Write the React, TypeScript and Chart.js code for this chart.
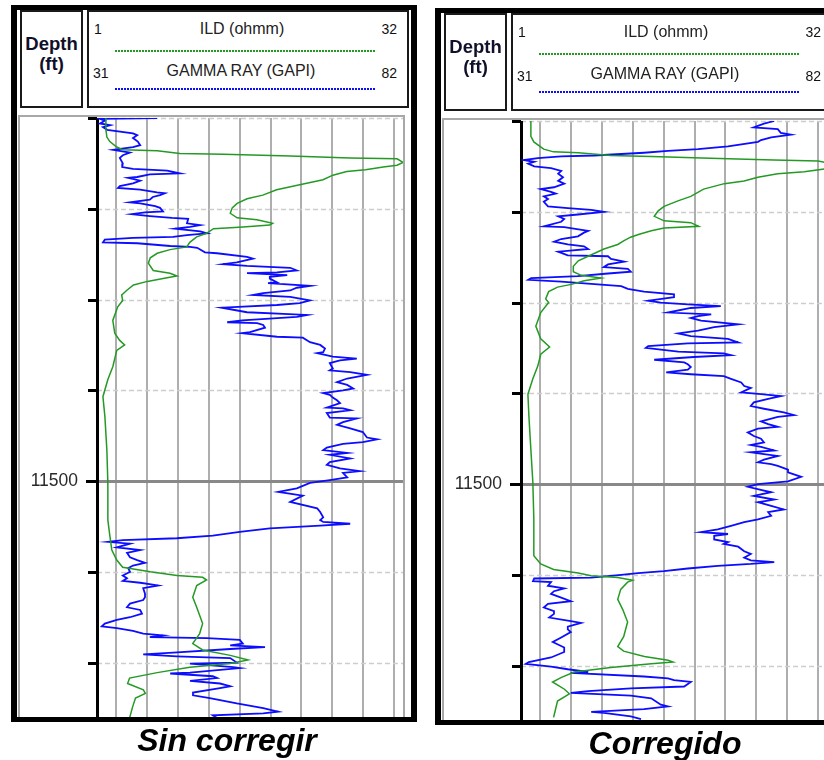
import React, { useEffect, useRef } from "react";
import { Chart, registerables } from "chart.js";

Chart.register(...registerables);

const FONT = '"Liberation Sans", Arial, Helvetica, sans-serif';

// ---- Depth axis (ft) ----
const DEPTH_TOP = 11460;
const DEPTH_BOTTOM = 11526.1;
const depthTicks = [11460, 11470, 11480, 11490, 11500, 11510, 11520];
const labelledDepth = 11500;

// ---- Curve scales (header) ----
const ildScale = [1, 32];
const grScale = [31, 82];
const gridStops = [0, 1, 2, 3, 4, 5, 6, 7, 8, 9];
const gridSpan = [-0.615, 9.288];

// ---- Panel titles ----
const panelTitles = ["Sin corregir", "Corregido"];

// ---- Sin corregir: [depth ft, value] ----
const grRaw = [
  [11460.0,41.0],[11460.1,31.5],[11460.3,32.3],[11460.6,31.5],[11460.8,33.2],[11461.0,32.0],[11461.3,32.7],[11461.7,37.0],[11461.9,37.7],[11462.2,37.0],[11462.6,37.8],[11463.0,38.2],[11463.2,37.0],[11463.5,33.7],[11463.8,36.5],[11464.1,35.3],[11464.4,34.8],[11465.0,35.3],[11465.4,35.2],[11465.6,37.0],[11465.8,42.7],[11466.1,44.8],[11466.2,39.8],[11466.5,37.7],[11466.6,36.2],[11466.9,38.2],[11467.2,37.0],[11467.5,34.8],[11467.7,34.5],[11467.9,38.2],[11468.2,41.0],[11468.3,42.3],[11468.5,41.5],[11468.7,40.3],[11469.0,39.8],[11469.3,36.5],[11469.4,38.2],[11469.7,40.7],[11469.9,41.5],[11470.3,42.0],[11470.4,39.0],[11470.6,36.8],[11470.8,39.8],[11471.0,43.5],[11471.1,46.2],[11471.6,46.0],[11471.8,48.2],[11472.0,46.5],[11472.2,44.0],[11472.5,48.2],[11472.7,49.3],[11472.9,46.0],[11473.1,43.7],[11473.2,37.0],[11473.4,32.3],[11473.7,32.0],[11473.8,37.7],[11474.1,43.2],[11474.2,46.5],[11474.3,47.7],[11474.8,49.0],[11474.9,51.0],[11475.3,56.0],[11475.5,57.0],[11475.9,54.3],[11476.1,52.0],[11476.3,56.0],[11476.5,63.2],[11476.8,64.3],[11477.0,61.0],[11477.1,56.0],[11477.3,62.7],[11477.5,59.8],[11477.7,59.8],[11478.1,61.0],[11478.2,59.5],[11478.5,66.5],[11478.7,64.3],[11479.0,63.2],[11479.3,58.7],[11479.5,57.0],[11479.7,63.2],[11480.1,66.5],[11480.4,64.8],[11480.6,61.0],[11480.9,51.8],[11481.4,56.0],[11481.7,66.0],[11481.9,64.3],[11482.3,55.2],[11482.5,52.7],[11482.6,57.7],[11482.8,58.7],[11483.1,59.0],[11483.6,56.5],[11483.7,55.2],[11484.1,61.0],[11484.2,65.3],[11484.7,66.5],[11485.0,68.2],[11485.4,69.0],[11485.8,68.7],[11485.9,67.7],[11486.3,70.3],[11486.5,74.3],[11486.7,71.5],[11487.0,69.8],[11487.6,70.3],[11487.8,69.8],[11488.0,73.2],[11488.3,76.0],[11488.7,72.7],[11489.1,71.0],[11489.4,72.7],[11489.8,73.7],[11490.0,72.0],[11490.3,68.7],[11490.5,69.8],[11490.8,70.3],[11491.1,71.0],[11491.4,71.5],[11491.9,69.3],[11492.0,72.0],[11492.2,73.2],[11492.5,69.3],[11493.0,69.8],[11493.1,74.3],[11493.5,72.0],[11493.8,71.0],[11494.2,73.2],[11494.6,75.3],[11495.2,76.0],[11495.4,77.7],[11495.7,75.3],[11495.9,72.0],[11496.3,69.3],[11496.6,68.7],[11496.9,72.7],[11497.1,69.8],[11497.5,73.2],[11497.9,69.8],[11498.2,69.3],[11498.6,71.5],[11498.9,74.8],[11499.1,72.0],[11499.6,72.7],[11499.9,69.8],[11500.2,66.5],[11500.8,64.3],[11501.2,61.2],[11501.6,65.3],[11502.3,63.2],[11503.0,67.7],[11503.4,68.2],[11504.0,68.7],[11504.3,68.2],[11504.5,68.7],[11504.7,73.2],[11504.9,68.2],[11505.2,59.8],[11505.6,54.8],[11506.0,50.3],[11506.3,44.3],[11506.5,35.3],[11506.7,32.8],[11506.9,36.5],[11507.3,34.3],[11507.6,38.2],[11507.9,36.0],[11508.4,36.5],[11508.7,37.7],[11509.0,39.0],[11509.3,37.0],[11509.6,36.2],[11510.0,36.5],[11510.4,35.3],[11510.7,36.0],[11511.0,35.3],[11511.2,38.2],[11511.5,41.2],[11511.8,38.7],[11512.4,39.0],[11512.8,39.0],[11513.1,38.7],[11513.5,36.5],[11513.9,36.0],[11514.2,38.2],[11514.6,38.5],[11515.0,36.5],[11515.3,34.3],[11515.7,32.3],[11516.0,31.8],[11516.2,34.3],[11516.5,37.0],[11516.8,38.7],[11517.0,42.0],[11517.2,39.8],[11517.3,49.3],[11517.5,54.8],[11517.9,55.3],[11518.1,53.2],[11518.3,59.0],[11518.5,53.2],[11518.9,43.7],[11519.1,38.7],[11519.3,44.3],[11519.5,53.2],[11520.0,54.3],[11520.1,46.5],[11520.5,53.7],[11520.6,54.8],[11521.1,46.5],[11521.2,43.2],[11521.5,50.3],[11521.7,51.0],[11522.0,46.5],[11522.3,51.5],[11522.6,53.2],[11522.8,51.5],[11523.3,47.0],[11523.6,47.0],[11523.9,49.8],[11524.5,54.3],[11525.0,58.7],[11525.4,61.2],[11525.6,58.7],[11525.8,50.3],[11526.1,51.0]
];

const ildRaw = [
  [11460.0,1.9],[11461.3,1.9],[11462.1,2.0],[11462.6,2.3],[11463.2,3.0],[11463.5,3.6],[11463.6,7.1],[11463.9,9.4],[11464.0,13.8],[11464.2,20.6],[11464.4,26.6],[11464.5,31.4],[11464.9,32.0],[11465.2,31.4],[11465.4,30.0],[11465.7,28.2],[11465.9,26.3],[11466.3,24.9],[11466.8,23.9],[11467.4,21.3],[11467.9,19.2],[11468.5,17.8],[11468.9,16.2],[11469.4,15.2],[11469.9,14.7],[11470.5,14.5],[11471.0,15.2],[11471.2,17.2],[11471.6,18.8],[11471.8,18.5],[11472.0,15.8],[11472.2,12.8],[11472.7,12.1],[11473.1,11.1],[11473.7,10.4],[11474.2,10.1],[11474.5,8.4],[11474.9,7.1],[11475.4,6.4],[11476.0,6.2],[11476.8,6.7],[11477.1,8.4],[11477.4,9.1],[11477.6,8.1],[11478.0,6.1],[11478.4,4.7],[11479.0,4.0],[11479.5,3.5],[11480.1,3.6],[11480.8,3.1],[11482.3,2.6],[11483.7,2.8],[11484.5,3.3],[11485.0,3.8],[11485.6,3.0],[11487.4,2.6],[11488.8,2.1],[11490.7,1.6],[11492.9,1.8],[11496.6,2.0],[11500.2,2.1],[11502.1,2.1],[11504.3,2.1],[11506.0,2.3],[11507.6,2.5],[11508.7,3.0],[11509.5,3.6],[11510.0,6.4],[11510.4,9.1],[11510.6,11.7],[11510.9,12.1],[11511.5,11.1],[11512.8,10.7],[11513.9,11.1],[11515.7,11.7],[11516.8,11.4],[11517.9,10.7],[11518.6,11.7],[11519.2,14.5],[11519.7,16.3],[11520.1,14.5],[11520.5,10.4],[11521.1,7.1],[11521.7,4.3],[11522.3,4.1],[11523.0,5.7],[11523.4,5.9],[11523.9,4.9],[11524.9,4.6],[11526.1,4.3]
];

// ---- Corregido: [depth ft, value] ----
const grCorrected = [
  [11460.0,73.2],[11460.3,71.5],[11460.7,69.8],[11460.9,73.8],[11461.3,74.3],[11461.5,76.0],[11461.8,72.7],[11462.1,71.0],[11462.3,70.5],[11462.8,65.5],[11463.1,60.5],[11463.3,55.5],[11463.5,51.5],[11463.8,43.2],[11463.9,37.7],[11464.1,33.8],[11464.3,31.5],[11464.5,33.2],[11464.7,32.2],[11465.0,33.2],[11465.2,36.0],[11465.5,37.7],[11465.8,37.2],[11466.2,38.0],[11466.6,37.2],[11466.9,38.2],[11467.3,36.5],[11467.5,34.3],[11467.8,36.0],[11468.0,36.8],[11468.3,34.8],[11468.6,35.5],[11468.9,34.8],[11469.4,35.5],[11469.6,38.8],[11469.8,42.7],[11470.0,44.8],[11470.3,40.5],[11470.5,37.2],[11470.8,38.2],[11471.1,37.7],[11471.6,34.8],[11471.7,38.2],[11472.1,42.2],[11472.3,41.5],[11472.7,40.5],[11473.0,37.7],[11473.3,36.5],[11473.6,38.8],[11473.8,41.5],[11474.1,42.2],[11474.4,37.2],[11474.8,38.8],[11474.9,45.5],[11475.2,46.0],[11475.5,48.2],[11475.8,45.5],[11476.1,44.8],[11476.3,48.8],[11476.6,49.3],[11476.8,45.5],[11477.1,40.5],[11477.3,32.7],[11477.5,32.2],[11477.7,37.7],[11478.0,43.8],[11478.2,47.7],[11478.5,48.8],[11478.8,51.5],[11479.1,56.5],[11479.4,56.5],[11479.8,52.2],[11480.0,54.3],[11480.2,58.8],[11480.4,64.3],[11480.6,59.3],[11481.1,55.5],[11481.3,62.7],[11481.5,60.5],[11481.7,59.3],[11482.0,61.0],[11482.4,67.2],[11482.7,63.2],[11483.1,60.5],[11483.4,57.2],[11483.7,59.3],[11484.0,65.5],[11484.4,67.2],[11484.5,58.8],[11484.8,52.2],[11485.0,51.8],[11485.4,57.2],[11485.6,64.8],[11485.8,66.0],[11486.0,59.8],[11486.3,53.2],[11486.6,58.2],[11486.8,58.8],[11487.1,59.3],[11487.4,58.8],[11487.7,55.2],[11487.9,59.3],[11488.1,64.8],[11488.4,66.0],[11488.8,67.7],[11489.2,68.2],[11489.4,69.3],[11489.9,67.7],[11490.1,71.0],[11490.3,74.3],[11490.6,72.2],[11491.0,69.8],[11491.4,69.3],[11491.7,71.5],[11492.1,74.8],[11492.4,76.5],[11492.6,73.8],[11493.1,71.0],[11493.4,72.2],[11493.7,73.8],[11493.9,70.5],[11494.3,68.8],[11494.7,69.8],[11495.0,71.0],[11495.4,71.5],[11495.7,69.3],[11495.9,71.0],[11496.3,73.2],[11496.5,69.3],[11496.7,71.5],[11496.9,73.8],[11497.3,71.5],[11497.6,70.5],[11497.8,72.7],[11498.0,73.8],[11498.4,75.5],[11498.7,75.5],[11499.2,77.7],[11499.7,75.5],[11500.0,70.5],[11500.3,68.8],[11500.9,72.7],[11501.3,69.8],[11501.7,73.2],[11502.0,70.5],[11502.4,72.7],[11502.8,74.8],[11503.1,72.2],[11503.5,72.7],[11503.9,70.5],[11504.2,68.2],[11504.6,66.0],[11505.0,63.8],[11505.3,61.0],[11505.5,65.5],[11505.7,63.2],[11506.1,63.2],[11506.4,65.5],[11506.6,64.8],[11506.9,67.2],[11507.4,68.2],[11507.7,69.3],[11508.1,68.2],[11508.4,69.3],[11508.6,73.2],[11508.8,69.3],[11509.0,63.8],[11509.3,58.8],[11509.6,54.8],[11509.8,50.5],[11510.0,47.7],[11510.3,42.7],[11510.4,33.2],[11510.7,33.0],[11510.8,36.0],[11511.2,35.5],[11511.5,38.2],[11511.8,36.5],[11512.1,36.0],[11512.5,37.7],[11512.9,39.3],[11513.2,35.5],[11513.6,34.8],[11514.0,36.5],[11514.3,36.5],[11514.7,35.7],[11515.1,39.3],[11515.3,41.0],[11515.7,38.8],[11516.0,38.8],[11516.3,39.3],[11516.9,37.7],[11517.4,36.3],[11518.0,38.2],[11518.5,38.2],[11519.1,36.0],[11519.6,32.3],[11519.8,31.8],[11520.1,36.0],[11520.4,38.8],[11520.7,42.2],[11520.8,39.3],[11521.2,51.5],[11521.4,55.5],[11521.6,56.5],[11521.8,59.3],[11522.3,58.2],[11522.5,49.3],[11522.8,42.2],[11523.0,39.3],[11523.3,49.3],[11523.6,52.7],[11524.3,54.3],[11524.5,55.5],[11524.8,51.5],[11525.1,42.7],[11525.2,44.8],[11525.6,49.3],[11525.9,51.0]
];

const ildCorrected = [
  [11460.0,2.0],[11461.7,2.0],[11462.3,2.3],[11463.1,3.3],[11463.4,4.3],[11463.5,6.8],[11463.8,10.1],[11463.9,14.2],[11464.1,20.2],[11464.3,26.6],[11464.4,31.1],[11464.6,32.0],[11465.1,31.8],[11465.3,31.7],[11465.6,29.7],[11465.8,27.0],[11466.2,25.0],[11466.6,23.6],[11466.9,21.6],[11467.5,19.5],[11468.3,18.2],[11468.8,16.9],[11469.4,15.5],[11469.9,14.9],[11470.5,14.5],[11471.0,15.5],[11471.2,18.2],[11471.6,19.0],[11471.8,15.5],[11472.1,14.2],[11472.5,12.9],[11472.8,12.1],[11473.2,11.4],[11473.6,10.8],[11474.1,9.4],[11474.9,7.8],[11475.4,6.8],[11476.0,6.3],[11476.6,6.3],[11477.0,7.1],[11477.3,9.1],[11477.6,7.4],[11478.0,6.1],[11478.3,4.7],[11478.8,3.8],[11479.6,3.5],[11480.0,3.8],[11481.1,3.0],[11482.6,2.5],[11484.0,3.0],[11484.9,3.9],[11485.7,3.0],[11487.0,2.7],[11488.4,2.2],[11490.1,1.7],[11492.5,1.8],[11496.2,2.0],[11499.8,2.2],[11503.9,2.3],[11507.9,2.3],[11508.8,3.0],[11509.4,4.3],[11509.8,6.8],[11510.1,8.1],[11510.3,10.8],[11510.6,12.3],[11510.8,11.8],[11511.6,11.1],[11512.7,10.8],[11513.8,11.3],[11515.2,11.8],[11516.8,11.4],[11517.9,10.8],[11518.4,11.4],[11519.0,13.5],[11519.4,15.9],[11519.6,16.4],[11519.8,14.2],[11520.2,10.1],[11520.7,6.4],[11521.3,5.1],[11521.8,4.2],[11522.6,5.4],[11523.1,5.9],[11523.9,4.7],[11524.8,4.5],[11525.7,4.3]
];

const ILD_COLOR = "#249a24";
const GR_COLOR = "#0c0cff";

const trackGrid = {
  id: "trackGrid",
  beforeDatasetsDraw(chart: any) {
    const { ctx, chartArea: a, scales } = chart;
    const yS = scales.y;
    const gS = scales.g;
    ctx.save();
    // vertical grid lines
    ctx.strokeStyle = "#aeaeae";
    ctx.lineWidth = 2;
    for (const v of gridStops) {
      const x = Math.round(gS.getPixelForValue(v));
      ctx.beginPath();
      ctx.moveTo(x, a.top);
      ctx.lineTo(x, a.bottom);
      ctx.stroke();
    }
    // horizontal dashed depth lines
    ctx.strokeStyle = "#cdcdcd";
    ctx.lineWidth = 1.5;
    ctx.setLineDash([5, 3]);
    for (const d of depthTicks) {
      if (d === labelledDepth) continue;
      const y = Math.round(yS.getPixelForValue(d)) + 0.5;
      ctx.beginPath();
      ctx.moveTo(a.left, y);
      ctx.lineTo(a.right, y);
      ctx.stroke();
    }
    ctx.setLineDash([]);
    // labelled depth line
    const y5 = Math.round(yS.getPixelForValue(labelledDepth));
    ctx.fillStyle = "#888888";
    ctx.fillRect(a.left, y5 - 1, a.right - a.left, 3);
    // ticks in the depth track
    ctx.fillStyle = "#000";
    for (const d of depthTicks) {
      const y = Math.round(yS.getPixelForValue(d));
      const len = d === labelledDepth ? 11 : 9;
      ctx.fillRect(a.left - len, y - 1, len, 3);
    }
    // depth axis line
    ctx.fillRect(a.left - 1, a.top, 3, a.bottom - a.top);
    ctx.restore();
  },
};

function txt(extra: any) {
  return {
    position: "absolute",
    fontFamily: FONT,
    color: "#111",
    whiteSpace: "nowrap",
    ...extra,
  };
}

function Panel({ dx, dy, caption, captionCenter, ild, gr }: any) {
  const ref = useRef<HTMLCanvasElement | null>(null);

  useEffect(() => {
    const chart = new Chart(ref.current as HTMLCanvasElement, {
      type: "scatter",
      data: {
        datasets: [
          {
            label: "ILD (ohmm)",
            data: ild.map(([d, v]: number[]) => ({ x: v, y: d })),
            xAxisID: "ild",
            yAxisID: "y",
            showLine: true,
            borderColor: ILD_COLOR,
            borderWidth: 1.5,
            pointRadius: 0,
            tension: 0,
          },
          {
            label: "GAMMA RAY (GAPI)",
            data: gr.map(([d, v]: number[]) => ({ x: v, y: d })),
            xAxisID: "gr",
            yAxisID: "y",
            showLine: true,
            borderColor: GR_COLOR,
            borderWidth: 1.8,
            pointRadius: 0,
            tension: 0,
          },
        ],
      },
      options: {
        responsive: false,
        maintainAspectRatio: false,
        animation: false,
        events: [],
        layout: { padding: { top: 3, right: 7, bottom: 0, left: 0 } },
        plugins: { legend: { display: false }, tooltip: { enabled: false } },
        scales: {
          y: {
            type: "linear",
            position: "left",
            reverse: true,
            min: DEPTH_TOP,
            max: DEPTH_BOTTOM,
            afterBuildTicks: (s: any) => {
              s.ticks = depthTicks.map((v) => ({ value: v }));
            },
            afterFit: (s: any) => {
              s.width = 79;
              s.paddingTop = 0;
              s.paddingBottom = 0;
            },
            grid: { display: false },
            border: { display: false },
            ticks: {
              autoSkip: false,
              padding: 11,
              color: "#2a2a2a",
              font: { family: FONT, size: 17.5 },
              callback: (v: any) => (v === labelledDepth ? String(v) : ""),
            },
          },
          ild: { type: "linear", position: "bottom", min: ildScale[0], max: ildScale[1], display: false },
          gr: { type: "linear", position: "bottom", min: grScale[0], max: grScale[1], display: false },
          g: { type: "linear", position: "top", min: gridSpan[0], max: gridSpan[1], display: false },
        },
      } as any,
      plugins: [trackGrid],
    });
    return () => chart.destroy();
  }, []);

  const dotted = (color: string) =>
    `repeating-linear-gradient(90deg, ${color} 0 2px, transparent 2px 3px)`;

  return (
    <div style={{ position: "absolute", left: dx, top: dy, width: 430, height: 760 }}>
      {/* header: depth box */}
      <div style={{ position: "absolute", left: 20, top: 10, width: 63, height: 98, boxSizing: "border-box", border: "2px solid #1a1a1a" }} />
      <div style={txt({ left: 20, width: 63, top: 35, textAlign: "center", fontSize: 18.5, fontWeight: "bold", lineHeight: "18px", color: "#10102a" })}>Depth</div>
      <div style={txt({ left: 20, width: 63, top: 55, textAlign: "center", fontSize: 18.5, fontWeight: "bold", lineHeight: "18px", color: "#10102a" })}>(ft)</div>
      {/* header: curve box */}
      <div style={{ position: "absolute", left: 87, top: 10, width: 322, height: 98, boxSizing: "border-box", border: "2px solid #1a1a1a" }} />
      <div style={txt({ left: 94, top: 21.5, fontSize: 14, lineHeight: "14px" })}>{String(ildScale[0])}</div>
      <div style={txt({ left: 142, width: 200, top: 21, textAlign: "center", fontSize: 16, lineHeight: "16px", color: "#222" })}>ILD (ohmm)</div>
      <div style={txt({ left: 297, width: 100, top: 21.5, textAlign: "right", fontSize: 14, lineHeight: "14px" })}>{String(ildScale[1])}</div>
      <div style={{ position: "absolute", left: 115, top: 50, width: 260, height: 1.5, background: dotted(ILD_COLOR) }} />
      <div style={txt({ left: 93, top: 66, fontSize: 14, lineHeight: "14px" })}>{String(grScale[0])}</div>
      <div style={txt({ left: 141, width: 200, top: 62.5, textAlign: "center", fontSize: 16, lineHeight: "16px", color: "#222" })}>GAMMA RAY (GAPI)</div>
      <div style={txt({ left: 297, width: 100, top: 66, textAlign: "right", fontSize: 14, lineHeight: "14px" })}>{String(grScale[1])}</div>
      <div style={{ position: "absolute", left: 115, top: 88, width: 260, height: 1.5, background: dotted(GR_COLOR) }} />
      {/* plot box */}
      <div style={{ position: "absolute", left: 18, top: 115, width: 387, height: 606, boxSizing: "border-box", border: "2px solid #a8a8a8" }} />
      <canvas ref={ref} width={392} height={603} style={{ position: "absolute", left: 18, top: 115, width: 392, height: 603 }} />
      {/* outer frame */}
      <div style={{ position: "absolute", left: 11, top: 5, width: 406, height: 717, boxSizing: "border-box", borderStyle: "solid", borderColor: "#000", borderWidth: "5px 6px 5px 6px" }} />
      {/* caption */}
      <div style={txt({ left: captionCenter - 150, width: 300, top: 725, textAlign: "center", fontSize: 32, lineHeight: "31px", fontWeight: "bold", fontStyle: "italic", color: "#000" })}>{caption}</div>
    </div>
  );
}

export default function App() {
  return (
    <div style={{ position: "absolute", left: 0, top: 0, width: 824, height: 760, overflow: "hidden", background: "#fff" }}>
      <Panel dx={0} dy={0} caption={panelTitles[0]} captionCenter={227} ild={ildRaw} gr={grRaw} />
      <Panel dx={424} dy={3} caption={panelTitles[1]} captionCenter={241} ild={ildCorrected} gr={grCorrected} />
    </div>
  );
}
